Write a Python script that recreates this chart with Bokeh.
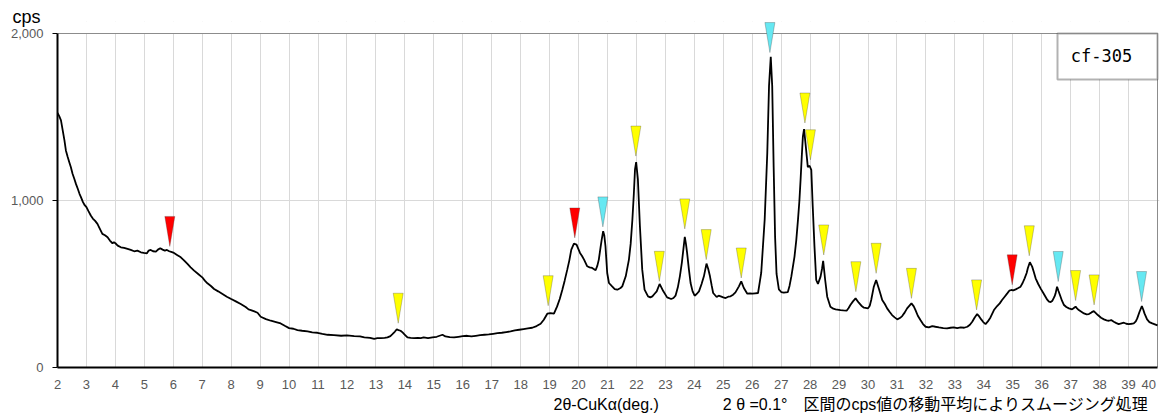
from bokeh.plotting import figure
from bokeh.models import (Range1d, FixedTicker, NumeralTickFormatter, Label, Title,
                          PolyAnnotation, BoxAnnotation)
from bokeh.embed import file_html
from bokeh.resources import INLINE

# ---------------- data ----------------
two_theta = [
    2.00, 2.06, 2.12, 2.18, 2.24, 2.29, 2.35, 2.41, 2.46, 2.52, 2.58, 2.64, 2.70, 2.76, 2.81, 2.88, 2.94,
    3.00, 3.07, 3.15, 3.22, 3.30, 3.38, 3.46, 3.55, 3.64, 3.73, 3.81, 3.90, 3.95,
    4.00, 4.08, 4.19, 4.30, 4.42, 4.53, 4.65, 4.76, 4.88, 4.98,
    5.09, 5.15, 5.22, 5.30, 5.40, 5.47, 5.55, 5.63, 5.71, 5.78, 5.86, 5.93,
    6.00, 6.13, 6.26, 6.37, 6.49, 6.60, 6.72, 6.86,
    7.00, 7.09, 7.18, 7.30, 7.41, 7.55, 7.70, 7.85,
    8.00, 8.16, 8.33, 8.50, 8.60, 8.68, 8.80, 8.91,
    9.02, 9.20, 9.37, 9.55, 9.71, 9.85,
    10.00, 10.15, 10.29, 10.45, 10.64, 10.80, 10.98,
    11.15, 11.33, 11.55, 11.80, 12.00, 12.25, 12.45, 12.60, 12.80, 12.94,
    13.05, 13.17, 13.30, 13.40, 13.50, 13.57, 13.65, 13.72, 13.78, 13.85, 13.92,
    14.00, 14.09, 14.20, 14.32, 14.45, 14.55, 14.65, 14.80, 14.95,
    15.10, 15.20, 15.30, 15.40, 15.55, 15.70, 15.85,
    16.00, 16.15, 16.30, 16.45, 16.60, 16.75, 16.90,
    17.05, 17.20, 17.35, 17.50, 17.65, 17.80, 17.95,
    18.10, 18.25, 18.40, 18.55, 18.69, 18.80, 18.92,
    19.03, 19.15, 19.26, 19.35, 19.44, 19.52, 19.61, 19.68, 19.75, 19.84, 19.93,
    20.05, 20.12, 20.19, 20.30, 20.38, 20.47, 20.59, 20.65, 20.70, 20.76, 20.80, 20.85, 20.89, 20.93, 20.99,
    21.05, 21.16, 21.25, 21.34, 21.45, 21.51, 21.63, 21.74, 21.80, 21.86, 21.91, 21.95, 21.99,
    22.05, 22.12, 22.20, 22.28, 22.40, 22.48, 22.55, 22.62, 22.70, 22.80, 22.86, 22.93,
    23.06, 23.20, 23.28, 23.35, 23.43, 23.50, 23.57, 23.62, 23.67, 23.71, 23.75, 23.81, 23.87, 23.94,
    24.01, 24.08, 24.16, 24.25, 24.33, 24.42, 24.48, 24.54, 24.60, 24.65, 24.77, 24.84, 24.91,
    25.00, 25.08, 25.17, 25.25, 25.34, 25.42, 25.54, 25.62, 25.71, 25.83, 25.92,
    26.00, 26.10, 26.20, 26.31, 26.43, 26.52, 26.58, 26.64, 26.69, 26.74, 26.79, 26.84, 26.92,
    27.00, 27.09, 27.16, 27.23, 27.29, 27.35, 27.46, 27.52, 27.58, 27.63, 27.67, 27.71, 27.75, 27.79, 27.85, 27.92, 27.98,
    28.04, 28.09, 28.15, 28.21, 28.27, 28.36, 28.41, 28.45, 28.52, 28.59, 28.70, 28.80, 28.88,
    29.05, 29.15, 29.26, 29.33, 29.39, 29.48, 29.57, 29.68, 29.77, 29.86,
    30.00, 30.06, 30.11, 30.20, 30.28, 30.37, 30.43, 30.49, 30.58, 30.66, 30.75, 30.83, 30.92,
    31.01, 31.10, 31.18, 31.27, 31.35, 31.50, 31.58, 31.64, 31.72, 31.81, 31.90, 31.99,
    32.10, 32.22, 32.33, 32.45, 32.60, 32.73, 32.85, 32.96,
    33.08, 33.20, 33.32, 33.43, 33.52, 33.60, 33.68, 33.77, 33.84, 33.91, 33.98,
    34.06, 34.14, 34.23, 34.35, 34.46, 34.55, 34.63, 34.72, 34.81, 34.88, 34.95,
    35.02, 35.10, 35.19, 35.27, 35.34, 35.41, 35.48, 35.52, 35.59, 35.67, 35.73, 35.79, 35.88, 35.96,
    36.05, 36.13, 36.19, 36.25, 36.31, 36.37, 36.44, 36.48, 36.53, 36.58, 36.63, 36.70, 36.77, 36.85, 36.94,
    37.05, 37.11, 37.17, 37.22, 37.28, 37.37, 37.46, 37.55, 37.63, 37.72, 37.80, 37.87, 37.94,
    38.05, 38.15, 38.24, 38.32, 38.40, 38.49, 38.58, 38.66, 38.75, 38.84, 38.92,
    39.01, 39.10, 39.18, 39.25, 39.30, 39.38, 39.46, 39.51, 39.55, 39.64, 39.72, 39.82, 39.91,
    40.00,
]
cps = [
    1525, 1505, 1480, 1420, 1360, 1300, 1262, 1228, 1200, 1160, 1130, 1098, 1070, 1040, 1020, 990, 972,
    960, 936, 910, 892, 878, 860, 832, 800, 792, 780, 760, 744, 750,
    744, 730, 720, 716, 710, 704, 696, 700, 690, 686,
    684, 700, 704, 696, 694, 706, 714, 706, 700, 704, 696, 692,
    688, 674, 660, 642, 620, 600, 580, 560,
    540, 520, 504, 488, 470, 456, 440, 424,
    410, 396, 380, 362, 348, 344, 336, 328,
    304, 290, 280, 272, 264, 250,
    236, 232, 224, 220, 216, 210, 208,
    202, 196, 194, 190, 192, 188, 186, 180, 178, 172,
    176, 176, 178, 180, 188, 200, 214, 228, 224, 220, 210,
    196, 180, 178, 176, 178, 176, 180, 176, 180,
    184, 190, 196, 186, 182, 180, 184,
    188, 190, 186, 190, 194, 196, 198,
    202, 206, 208, 212, 216, 222, 226,
    230, 234, 238, 248, 262, 286, 322,
    326, 322, 366, 410, 466, 520, 586, 640, 706, 742, 736,
    686, 668, 646, 606, 600, 596, 582, 610, 646, 720, 766, 816, 790, 726, 566,
    506, 486, 470, 466, 476, 486, 546, 646, 740, 886, 1040, 1186, 1230,
    1126, 846, 586, 466, 426, 420, 426, 440, 456, 500, 480, 456,
    420, 410, 416, 430, 480, 546, 630, 706, 782, 740, 686, 590, 506, 456,
    430, 440, 456, 500, 546, 622, 590, 546, 490, 446, 422, 430, 426,
    420, 416, 424, 426, 436, 450, 486, 516, 476, 442, 444,
    442, 444, 446, 566, 886, 1286, 1686, 1860, 1686, 1200, 780, 560, 468,
    452, 448, 450, 452, 490, 544, 664, 760, 884, 1000, 1124, 1260, 1384, 1428, 1324, 1200, 1208,
    1184, 964, 724, 524, 500, 544, 590, 638, 524, 424, 364, 352, 348,
    344, 342, 340, 356, 374, 396, 414, 388, 370, 358,
    354, 370, 404, 484, 524, 474, 440, 404, 380, 354, 332, 314, 300,
    288, 296, 308, 330, 354, 384, 366, 344, 310, 284, 260, 244,
    240, 248, 244, 240, 236, 234, 238, 240,
    236, 240, 238, 244, 256, 274, 298, 320, 306, 288, 272,
    260, 276, 300, 344, 368, 384, 404, 424, 444, 460, 464,
    462, 468, 476, 484, 506, 534, 566, 594, 630, 604, 570, 534, 500, 474,
    448, 424, 406, 394, 392, 400, 424, 444, 484, 458, 434, 400, 374, 362, 354,
    348, 356, 364, 354, 344, 334, 324, 318, 320, 330, 338, 326, 314,
    298, 288, 282, 280, 284, 274, 266, 260, 264, 268, 262,
    260, 262, 264, 276, 294, 334, 368, 346, 324, 288, 272, 264, 258,
    252,
]

# peak markers (x position, tip value, category colour)
mark_x = [5.88, 13.77, 18.95, 19.87, 20.84, 21.98, 22.79, 23.67, 24.41, 25.62, 26.61, 27.82,
          28.01, 28.47, 29.58, 30.28, 31.50, 33.75, 34.98, 35.57, 36.57, 37.17, 37.81, 39.45]
mark_tip = [725, 265, 370, 776, 842, 1266, 516, 830, 646, 536, 1886, 1464,
            1244, 674, 454, 564, 414, 345, 495, 669, 515, 401, 375, 395]
mark_kind = ["r", "y", "y", "r", "c", "y", "y", "y", "y", "y", "c", "y",
             "y", "y", "y", "y", "y", "y", "r", "y", "c", "y", "y", "c"]
kind_color = {"r": "#FF0000", "y": "#FFFF00", "c": "#66E8F2"}

x_ticks = list(range(2, 41))
y_ticks = [0, 1000, 2000]
sample_name = "cf-305"
x_title = "2θ-CuKα(deg.)"
note_text = "2 θ =0.1°\u3000区間のcps値の移動平均によりスムージング処理"
y_title = "cps"

# ---------------- layout ----------------
W, H = 1162, 415
X0, X1, Y0, Y1 = 2, 40, 0, 2000
PLOT_W, PLOT_H = 1100, 334          # pixel size of the 2..40 x 0..2000 area
PAD_R, PAD_T = 2, 12                # extra frame room so top markers are not clipped
ML, MR, MT = 57, 3, 21
MB = H - MT - PLOT_H - PAD_T
dx_per_px = (X1 - X0) / PLOT_W
dy_per_px = (Y1 - Y0) / PLOT_H

p = figure(width=W, height=H,
           x_range=Range1d(X0, X1 + PAD_R * dx_per_px),
           y_range=Range1d(Y0, Y1 + PAD_T * dy_per_px),
           output_backend="svg", toolbar_location=None,
           min_border_left=ML, min_border_right=MR, min_border_top=MT, min_border_bottom=MB)
p.background_fill_color = "white"
p.border_fill_color = "white"
p.outline_line_color = None

tick_font = "Liberation Sans"
p.xaxis.ticker = FixedTicker(ticks=x_ticks)
p.xaxis.bounds = (X0, X1)
p.xaxis.major_label_overrides = {40: "40\u2002"}
p.xaxis.major_tick_out = 0
p.xaxis.major_tick_in = 0
p.xaxis.minor_tick_out = 0
p.xaxis.major_label_standoff = 9
p.yaxis.ticker = FixedTicker(ticks=y_ticks)
p.yaxis.bounds = (Y0, Y1)
p.yaxis.formatter = NumeralTickFormatter(format="0,0")
p.yaxis.major_tick_out = 5
p.yaxis.major_tick_in = 0
p.yaxis.minor_tick_out = 0
p.yaxis.major_label_standoff = 9
for ax in (p.xaxis, p.yaxis):
    ax.axis_line_color = "black"
    ax.axis_line_width = 2
    ax.major_tick_line_color = "black"
    ax.major_label_text_font = tick_font
    ax.major_label_text_font_size = "13px"
    ax.major_label_text_color = "#595959"

p.xgrid.ticker = FixedTicker(ticks=x_ticks[1:-1])
p.ygrid.ticker = FixedTicker(ticks=[1000])
p.xgrid.grid_line_color = "#D9D9D9"
p.ygrid.grid_line_color = "#D9D9D9"

# plot-area border (top and right)
p.segment(x0=[X0, X1], y0=[Y1, Y0], x1=[X1, X1], y1=[Y1, Y1], line_color="#8C8C8C", line_width=1)

p.line(two_theta, cps, line_color="black", line_width=1.8)

# white cover above the plot area (hides grid stubs), markers drawn on top of it
p.add_layout(BoxAnnotation(bottom=Y1 + 0.6 * dy_per_px, fill_color="white", fill_alpha=1.0,
                           line_color=None))

# sample name box in the upper right corner
p.add_layout(BoxAnnotation(left=X1 - 100 * dx_per_px, right=X1, top=Y1, bottom=Y1 - 46 * dy_per_px,
                           fill_color="white", fill_alpha=1.0, line_color="black", line_width=2))
p.add_layout(Label(x=X1 - 56 * dx_per_px, y=Y1 - 22 * dy_per_px, text=sample_name,
                   text_align="center", text_baseline="middle",
                   text_font="DejaVu Sans Mono", text_font_size="17px", text_color="black"))

# peak markers as tall inverted triangles
hw = 5 * dx_per_px
hh = 30 * dy_per_px
for mx, mt, mk in zip(mark_x, mark_tip, mark_kind):
    p.add_layout(PolyAnnotation(xs=[mx - hw, mx + hw, mx], ys=[mt + hh, mt + hh, mt],
                                fill_color=kind_color[mk], fill_alpha=1.0,
                                line_color="#404040", line_width=1))

# y unit above the axis
p.add_layout(Title(text=y_title, align="left", offset=-45, vertical_align="bottom", standoff=-10,
                   text_font="Liberation Sans", text_font_size="18px", text_font_style="normal",
                   text_color="black"), "above")

# x title and smoothing note on one line below the axis
p.add_layout(Title(text=x_title + "\u3000" * 4 + note_text, align="left", offset=553 - ML,
                   vertical_align="middle", standoff=0,
                   text_font="'Liberation Sans', 'Noto Sans CJK JP'", text_font_size="16px",
                   text_font_style="normal", text_color="black"), "below")

open("out.html", "w").write(file_html(p, INLINE))
